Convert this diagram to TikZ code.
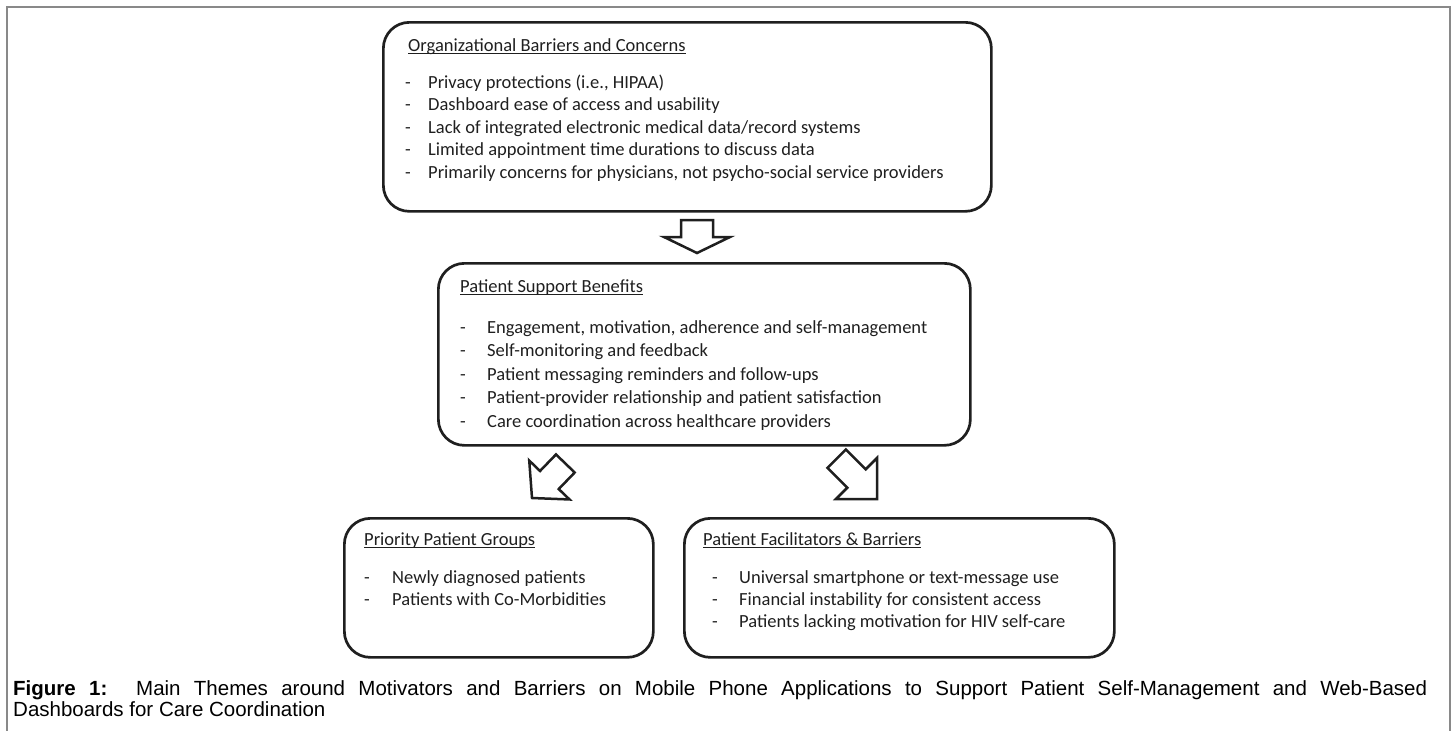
\documentclass[tikz,border=0pt]{standalone}
\usepackage{fontspec}
\setmainfont{Carlito}
\newfontfamily\capfont{Liberation Sans}
\usepackage{xcolor}
\usetikzlibrary{calc}
\definecolor{ink}{HTML}{1F1F1F}
\definecolor{framegray}{HTML}{898989}
\newcommand{\bul}[1]{\makebox[#1][l]{-}}
\newcommand{\titleline}[1]{\setbox0\hbox{#1}\rlap{\rule[-2.8pt]{\wd0}{1.3pt}}\box0}
\newcommand{\blockarrow}[4]{(0,0) -- (-#1,#2) -- (-#1,#3) -- (-#4,#3) -- (-#4,-#3) -- (-#1,-#3) -- (-#1,-#2) -- cycle}
\tikzset{
  box/.style={draw=ink, line width=2.7pt, rounded corners=26pt, anchor=north west, inner sep=0pt},
  boxtitle/.style={anchor=base west, inner sep=0pt, text=ink, font=\fontsize{18.5}{22}\selectfont},
  boxitems/.style={anchor=north west, inner sep=0pt, align=left, text=ink},
  hollow/.style={draw=ink, line width=2.5pt, fill=white}
}

\begin{document}
\begin{tikzpicture}[x=1pt,y=-1pt]
      \useasboundingbox (0,0) rectangle (1454,731);
      \draw[framegray, line width=2pt] (7,731) -- (7,7) -- (1450,7) -- (1450,731);
      % boxes
      \node[box, minimum width=608pt, minimum height=189pt] (org) at (382,21) {};
      \node[box, minimum width=532pt, minimum height=182pt] (benefit) at (437,262) {};
      \node[box, minimum width=309pt, minimum height=139pt] (groups) at (343,517) {};
      \node[box, minimum width=430pt, minimum height=139pt] (facil) at (683,517) {};
      % titles
      \node[boxtitle] (orgtitle) at ($(org.north west)+(26,30)$) {\titleline{Organizational Barriers and Concerns}};
      \node[boxtitle] (benefittitle) at ($(benefit.north west)+(23,30)$) {\titleline{Patient Support Benefits}};
      \node[boxtitle] (groupstitle) at ($(groups.north west)+(21,28)$) {\titleline{Priority Patient Groups}};
      \node[boxtitle] (faciltitle) at ($(facil.north west)+(20,28)$) {\titleline{Patient Facilitators \& Barriers}};
      % lists
      \node[boxitems, font=\fontsize{18.5}{22.5}\selectfont] (orgitems) at ($(org.north west)+(23,51.25)$)
        {\strut\bul{23pt}Privacy protections (i.e., HIPAA)\\
         \bul{23pt}Dashboard ease of access and usability\\
         \bul{23pt}Lack of integrated electronic medical data/record systems\\
         \bul{23pt}Limited appointment time durations to discuss data\\
         \bul{23pt}Primarily concerns for physicians, not psycho-social service providers};
      \node[boxitems, font=\fontsize{18.5}{23.5}\selectfont] (benefititems) at ($(benefit.north west)+(23,54.55)$)
        {\strut\bul{27pt}Engagement, motivation, adherence and self-management\\
         \bul{27pt}Self-monitoring and feedback\\
         \bul{27pt}Patient messaging reminders and follow-ups\\
         \bul{27pt}Patient-provider relationship and patient satisfaction\\
         \bul{27pt}Care coordination across healthcare providers};
      \node[boxitems, font=\fontsize{18.5}{22}\selectfont] (groupsitems) at ($(groups.north west)+(21,50.6)$)
        {\strut\bul{28pt}Newly diagnosed patients\\
         \bul{28pt}Patients with Co-Morbidities};
      \node[boxitems, font=\fontsize{18.5}{22}\selectfont] (facilitems) at ($(facil.north west)+(29,50.6)$)
        {\strut\bul{27pt}Universal smartphone or text-message use\\
         \bul{27pt}Financial instability for consistent access\\
         \bul{27pt}Patients lacking motivation for HIV self-care};
      % block arrows
      \coordinate (downtip) at (697,253);
      \coordinate (lefttip) at (532,498);
      \coordinate (righttip) at (877,499);
      \draw[hollow, shift={(downtip)}, rotate=-90] \blockarrow{16}{33}{16}{33};
      \draw[hollow, shift={(lefttip)}, rotate=226] \blockarrow{25}{28}{13}{48};
      \draw[hollow, shift={(righttip)}, rotate=-45] \blockarrow{29}{29}{13}{57};
      % caption
      \node[anchor=north west, inner sep=0pt, text width=1414pt, align=justify,
            font=\capfont\fontsize{20.5}{21.7}\selectfont] (caption) at (13,679.8)
        {\strut\textbf{Figure 1:}\hspace{6pt} Main Themes around Motivators and Barriers on Mobile Phone Applications to Support Patient Self-Management and Web-Based\linebreak
         Dashboards for Care Coordination};
\end{tikzpicture}
\end{document}
